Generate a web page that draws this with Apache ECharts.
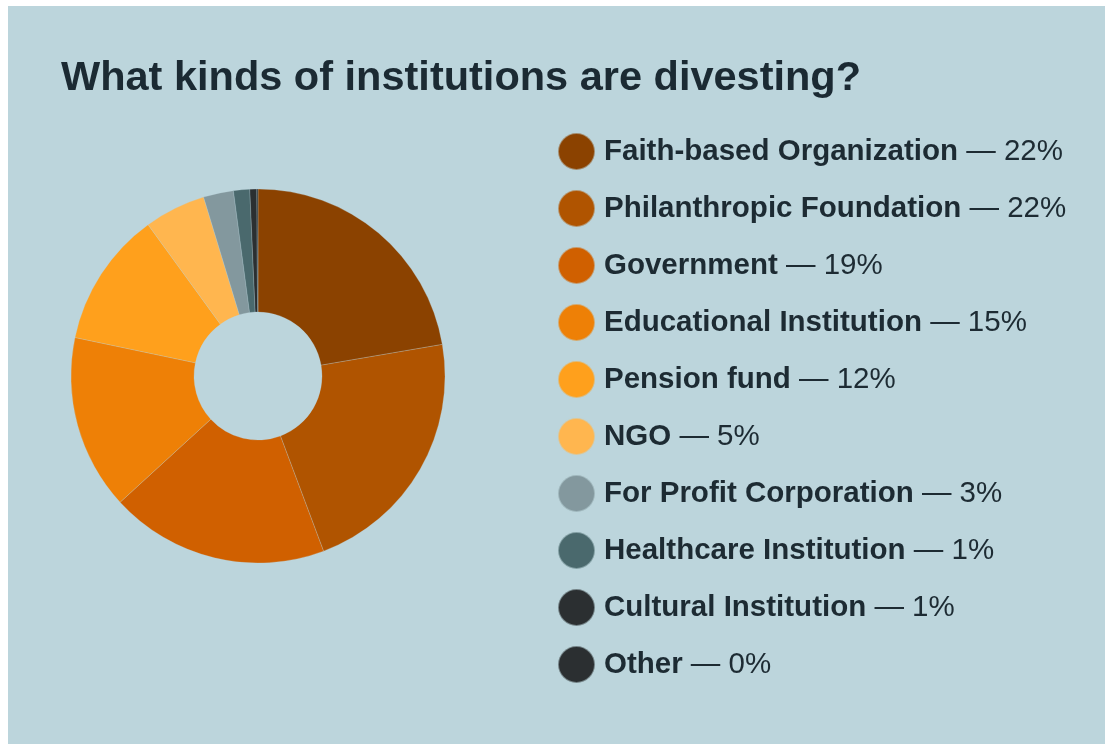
<!DOCTYPE html>
<html>
<head>
<meta charset="utf-8">
<script src="https://cdn.jsdelivr.net/npm/echarts@6/dist/echarts.min.js"></script>
<style>
html,body{margin:0;padding:0;background:#ffffff;}
#main{width:1105px;height:744px;}
</style>
</head>
<body>
<div id="main"></div>
<script>
var titleText = 'What kinds of institutions are divesting?';
var categories = ['Faith-based Organization','Philanthropic Foundation','Government','Educational Institution','Pension fund','NGO','For Profit Corporation','Healthcare Institution','Cultural Institution','Other'];
var values = [22.3, 22.0, 18.9, 15.1, 11.7, 5.3, 2.6, 1.4, 0.6, 0.1];
var colors = ['#8b4200','#b05400','#d06000','#ee8006','#ffa01c','#ffb64f','#83989e','#4a696d','#2b2f31','#2b2f31'];

var total = values.reduce(function(a,b){return a+b;},0);
var pctMap = {};
categories.forEach(function(c,i){ pctMap[c] = Math.round(values[i]/total*100); });

var chart = echarts.init(document.getElementById('main'));
chart.setOption({
  backgroundColor: '#ffffff',
  animation: false,
  graphic: [{
    type: 'rect', z: -10, silent: true,
    shape: {x: 8, y: 6, width: 1105, height: 744},
    style: {fill: '#bcd5dc'}
  }],
  title: {
    text: titleText,
    left: 61, top: 58,
    padding: 0,
    textStyle: {fontFamily: 'Liberation Sans, Arial, sans-serif', fontWeight: 'bold', fontSize: 41.5, color: '#1b2a33'}
  },
  legend: {
    orient: 'vertical',
    left: 557, top: 132,
    padding: 0,
    icon: 'circle',
    itemWidth: 37, itemHeight: 37,
    itemGap: 18,
    selectedMode: false,
    data: categories,
    formatter: function(name){ return '{b|' + name + '}{r| \u2014 ' + pctMap[name] + '%}'; },
    textStyle: {
      padding: [0,0,0,0],
      rich: {
        b: {fontFamily: 'Liberation Sans, Arial, sans-serif', fontWeight: 'bold', fontSize: 29.5, color: '#1d2b33', padding: [0,0,0,4]},
        r: {fontFamily: 'Liberation Sans, Arial, sans-serif', fontWeight: 'normal', fontSize: 29.5, color: '#1d2b33'}
      }
    }
  },
  series: [{
    type: 'pie',
    center: [258, 376],
    radius: [64, 187],
    startAngle: 90,
    clockwise: true,
    label: {show: false},
    labelLine: {show: false},
    emphasis: {disabled: true},
    itemStyle: {borderColor: 'rgba(188,213,220,0.5)', borderWidth: 0.5},
    data: categories.map(function(c,i){ return {name: c, value: values[i], itemStyle: {color: colors[i]}}; })
  }]
});
</script>
</body>
</html>
